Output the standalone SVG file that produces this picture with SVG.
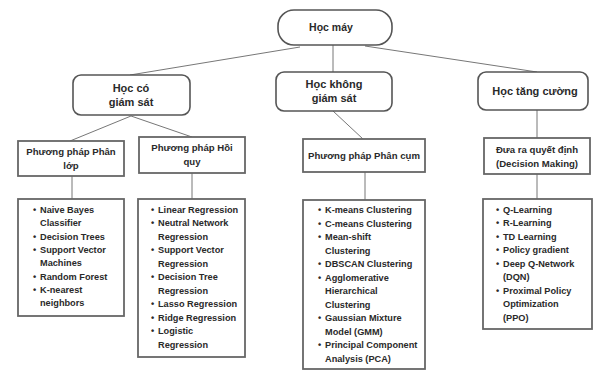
<svg xmlns="http://www.w3.org/2000/svg" width="594" height="378" viewBox="0 0 594 378">
<style>
.bg{fill:#ffffff}
.rnd{fill:#ffffff;stroke:#555;stroke-width:1.6}
.box{fill:#ffffff;stroke:#666;stroke-width:1.8}
.ln{stroke:#777;stroke-width:1;fill:none}
text{font-family:"Liberation Sans",Arial,sans-serif;font-weight:bold;fill:#2a2a2a}
.h1{font-size:10.5px;text-anchor:middle}
.h2{font-size:11px;text-anchor:middle}
.h3{font-size:9.6px;text-anchor:middle}
.li{font-size:9.2px}
</style>
<rect class="bg" x="0" y="0" width="594" height="378"/>
<g id="connectors">
<line class="ln" x1="300" y1="47" x2="130" y2="75"/>
<line class="ln" x1="333" y1="45" x2="333" y2="72"/>
<line class="ln" x1="365" y1="46" x2="537" y2="72"/>
<line class="ln" x1="131" y1="116" x2="70" y2="141"/>
<line class="ln" x1="131" y1="116" x2="192" y2="137"/>
<line class="ln" x1="333" y1="111" x2="363" y2="139"/>
<line class="ln" x1="537" y1="110" x2="537" y2="138"/>
<line class="ln" x1="72" y1="176" x2="72" y2="199"/>
<line class="ln" x1="192" y1="173" x2="192" y2="199"/>
<line class="ln" x1="365" y1="172" x2="365" y2="200"/>
<line class="ln" x1="537" y1="174" x2="537" y2="199"/>
</g>
<g id="hoc-may">
<rect class="rnd" x="278" y="10" width="114" height="35" rx="16"/>
<text class="h1" x="331" y="31">Học máy</text>
</g>
<g id="hoc-co-giam-sat">
<rect class="rnd" x="73" y="75" width="117" height="40" rx="8"/>
<text class="h2" x="131" y="92">Học có</text>
<text class="h2" x="131" y="106">giám sát</text>
</g>
<g id="hoc-khong-giam-sat">
<rect class="rnd" x="276" y="72" width="116" height="39" rx="8"/>
<text class="h2" x="334" y="88">Học không</text>
<text class="h2" x="334" y="102">giám sát</text>
</g>
<g id="hoc-tang-cuong">
<rect class="rnd" x="478" y="72" width="110" height="38" rx="8"/>
<text class="h2" x="535" y="95">Học tăng cường</text>
</g>
<g id="phan-lop">
<rect class="box" x="18" y="141" width="106" height="35"/>
<text class="h3" x="71" y="155">Phương pháp Phân</text>
<text class="h3" x="71" y="169">lớp</text>
</g>
<g id="hoi-quy">
<rect class="box" x="139" y="137" width="106" height="36"/>
<text class="h3" x="192" y="151">Phương pháp Hồi</text>
<text class="h3" x="192" y="165">quy</text>
</g>
<g id="phan-cum">
<rect class="box" x="303" y="139" width="122" height="33"/>
<text class="h3" x="364" y="159">Phương pháp Phân cụm</text>
</g>
<g id="decision-making">
<rect class="box" x="484" y="138" width="106" height="36"/>
<text class="h3" x="537" y="153">Đưa ra quyết định</text>
<text class="h3" x="537" y="167">(Decision Making)</text>
</g>
<g id="list-phan-lop">
<rect class="box" x="18" y="199" width="106" height="117"/>
<text class="li" x="33" y="213">•</text><text class="li" x="40" y="213">Naive Bayes</text>
<text class="li" x="40" y="226">Classifier</text>
<text class="li" x="33" y="240">•</text><text class="li" x="40" y="240">Decision Trees</text>
<text class="li" x="33" y="253">•</text><text class="li" x="40" y="253">Support Vector</text>
<text class="li" x="40" y="266">Machines</text>
<text class="li" x="33" y="280">•</text><text class="li" x="40" y="280">Random Forest</text>
<text class="li" x="33" y="293">•</text><text class="li" x="40" y="293">K-nearest</text>
<text class="li" x="40" y="306">neighbors</text>
</g>
<g id="list-hoi-quy">
<rect class="box" x="138" y="199" width="107" height="158"/>
<text class="li" x="151" y="213">•</text><text class="li" x="158" y="213">Linear Regression</text>
<text class="li" x="151" y="226">•</text><text class="li" x="158" y="226">Neutral Network</text>
<text class="li" x="158" y="240">Regression</text>
<text class="li" x="151" y="253">•</text><text class="li" x="158" y="253">Support Vector</text>
<text class="li" x="158" y="267">Regression</text>
<text class="li" x="151" y="280">•</text><text class="li" x="158" y="280">Decision Tree</text>
<text class="li" x="158" y="294">Regression</text>
<text class="li" x="151" y="307">•</text><text class="li" x="158" y="307">Lasso Regression</text>
<text class="li" x="151" y="321">•</text><text class="li" x="158" y="321">Ridge Regression</text>
<text class="li" x="151" y="334">•</text><text class="li" x="158" y="334">Logistic</text>
<text class="li" x="158" y="348">Regression</text>
</g>
<g id="list-phan-cum">
<rect class="box" x="303" y="200" width="122" height="169"/>
<text class="li" x="318" y="213">•</text><text class="li" x="325" y="213">K-means Clustering</text>
<text class="li" x="318" y="227">•</text><text class="li" x="325" y="227">C-means Clustering</text>
<text class="li" x="318" y="240">•</text><text class="li" x="325" y="240">Mean-shift</text>
<text class="li" x="325" y="254">Clustering</text>
<text class="li" x="318" y="267">•</text><text class="li" x="325" y="267">DBSCAN Clustering</text>
<text class="li" x="318" y="281">•</text><text class="li" x="325" y="281">Agglomerative</text>
<text class="li" x="325" y="294">Hierarchical</text>
<text class="li" x="325" y="308">Clustering</text>
<text class="li" x="318" y="321">•</text><text class="li" x="325" y="321">Gaussian Mixture</text>
<text class="li" x="325" y="335">Model (GMM)</text>
<text class="li" x="318" y="348">•</text><text class="li" x="325" y="348">Principal Component</text>
<text class="li" x="325" y="362">Analysis (PCA)</text>
</g>
<g id="list-rl">
<rect class="box" x="483" y="199" width="109" height="130"/>
<text class="li" x="496" y="213">•</text><text class="li" x="503" y="213">Q-Learning</text>
<text class="li" x="496" y="226">•</text><text class="li" x="503" y="226">R-Learning</text>
<text class="li" x="496" y="240">•</text><text class="li" x="503" y="240">TD Learning</text>
<text class="li" x="496" y="253">•</text><text class="li" x="503" y="253">Policy gradient</text>
<text class="li" x="496" y="267">•</text><text class="li" x="503" y="267">Deep Q-Network</text>
<text class="li" x="503" y="280">(DQN)</text>
<text class="li" x="496" y="294">•</text><text class="li" x="503" y="294">Proximal Policy</text>
<text class="li" x="503" y="307">Optimization</text>
<text class="li" x="503" y="321">(PPO)</text>
</g>
</svg>
